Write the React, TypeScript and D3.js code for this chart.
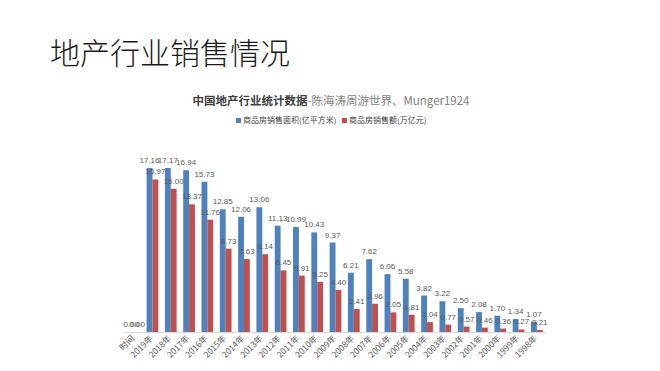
import React from "react";
import * as d3 from "d3";

const categories = [
  "时间", "2019年", "2018年", "2017年", "2016年", "2015年", "2014年", "2013年",
  "2012年", "2011年", "2010年", "2009年", "2008年", "2007年", "2006年", "2005年",
  "2004年", "2003年", "2002年", "2001年", "2000年", "1999年", "1998年",
];
const areaValues = [
  0, 17.16, 17.17, 16.94, 15.73, 12.85, 12.06, 13.06, 11.13, 10.99, 10.43, 9.37,
  6.21, 7.62, 6.06, 5.58, 3.82, 3.22, 2.5, 2.08, 1.7, 1.34, 1.07,
];
const salesValues = [
  0, 15.97, 15.0, 13.37, 11.76, 8.73, 7.63, 8.14, 6.45, 5.91, 5.25, 4.4,
  2.41, 2.96, 2.05, 1.81, 1.04, 0.77, 0.57, 0.46, 0.36, 0.27, 0.21,
];
const seriesNames = ["商品房销售面积(亿平方米)", "商品房销售额(万亿元)"];
const seriesColors = ["#4F81BD", "#C0504D"];

const W = 660;
const H = 371;
const plot = { left: 125, right: 546, top: 168, bottom: 332 };

const App = () => {
  const x = d3
    .scaleBand<string>()
    .domain(categories)
    .range([plot.left, plot.right])
    .paddingInner(0.36)
    .paddingOuter(0.18);
  const sub = d3.scaleBand<number>().domain([0, 1]).range([0, x.bandwidth()]);
  const y = d3.scaleLinear().domain([0, 17.17]).range([plot.bottom, plot.top]);
  const series = [areaValues, salesValues];
  const cjk = "'Noto Sans CJK SC', 'Noto Sans', sans-serif";

  return (
    <svg
      width={W}
      height={H}
      style={{ position: "absolute", left: 0, top: 0, background: "#fff" }}
      fontFamily={cjk}
    >
      <text x={50} y={64} fontSize={30} fontWeight={300} fill="#1a1a1a">
        地产行业销售情况
      </text>
      <text x={331} y={105} fontSize={11.5} textAnchor="middle">
        <tspan fontWeight="bold" fill="#404040">中国地产行业统计数据</tspan>
        <tspan fill="#7f7f7f">-陈海涛周游世界、Munger1924</tspan>
      </text>
      {/* legend */}
      <g fontSize={8} fill="#404040">
        <rect x={236} y={118} width={5} height={5} fill={seriesColors[0]} />
        <text x={243} y={123}>{seriesNames[0]}</text>
        <rect x={342} y={118} width={5} height={5} fill={seriesColors[1]} />
        <text x={349} y={123}>{seriesNames[1]}</text>
      </g>
      <line x1={plot.left} x2={plot.right} y1={plot.bottom + 0.5} y2={plot.bottom + 0.5} stroke="#d9d9d9" />
      {series.map((vals, s) => (
        <g key={s}>
          {vals.map((v, i) => {
            const bx = (x(categories[i]) ?? 0) + (sub(s) ?? 0);
            return (
              <rect
                key={i}
                x={bx}
                y={y(v)}
                width={sub.bandwidth()}
                height={plot.bottom - y(v)}
                fill={seriesColors[s]}
              />
            );
          })}
        </g>
      ))}
      {series.map((vals, s) => (
        <g key={"l" + s} fontSize={8} fill="#595959" textAnchor="middle" fontFamily="'Liberation Sans', Arial, sans-serif">
          {vals.map((v, i) => {
            const cx = (x(categories[i]) ?? 0) + (sub(s) ?? 0) + sub.bandwidth() / 2;
            return (
              <text key={i} x={cx} y={y(v) - 5}>
                {v.toFixed(2)}
              </text>
            );
          })}
        </g>
      ))}
      <g fontSize={8.5} fill="#595959" textAnchor="end">
        {categories.map((c) => {
          const cx = (x(c) ?? 0) + x.bandwidth() / 2 + 1;
          const cy = plot.bottom + 7;
          return (
            <text key={c} x={cx} y={cy} transform={`rotate(-45 ${cx} ${cy})`}>
              {c}
            </text>
          );
        })}
      </g>
    </svg>
  );
};

export default App;
